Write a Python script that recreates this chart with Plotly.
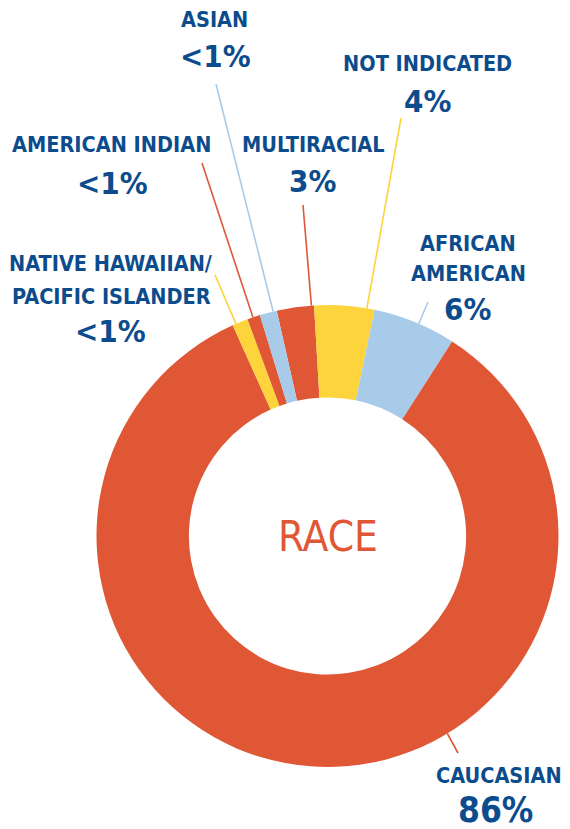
import math
import plotly.graph_objects as go

# ---- data ----
categories = ["Multiracial", "Not Indicated", "African American", "Caucasian",
              "Native Hawaiian/Pacific Islander", "American Indian", "Asian"]
values = [2.6, 4.2, 5.8, 84.2, 1.1, 0.9, 1.2]
label_names = ["MULTIRACIAL", "NOT INDICATED", "AFRICAN<br>AMERICAN", "CAUCASIAN",
               "NATIVE HAWAIIAN/<br>PACIFIC ISLANDER", "AMERICAN INDIAN", "ASIAN"]
label_pcts = ["3%", "4%", "6%", "86%", "<1%", "<1%", "<1%"]
center_title = "RACE"

# ---- style / layout ----
RED = "#E05736"
YELLOW = "#FDD43B"
BLUE = "#A8CBEA"
NAVY = "#0D4C8C"
slice_colors = [RED, YELLOW, BLUE, RED, YELLOW, RED, BLUE]

W, H = 570, 829
CX, CY, R = 327.5, 536.0, 231.0
HOLE = 0.60
ROTATION = -12.7

# x centre and y centre of each text line of the name
name_x = [313.5, 427.5, 468, 499, 111, 111.5, 214]
name_line_y = [[145], [64], [243.5, 273], [775], [263, 296], [144.5], [19.5]]
pct_pos = [(312.5, 181.5), (427.5, 100.5), (467.5, 308.5), (495.5, 810),
           (110, 331), (112.5, 183), (215, 55.5)]
leader_end = [(303, 205), (401, 118), (428, 302), (458, 753),
              (215, 275), (202, 163), (216, 84)]
leader_frac = [0.93, 0.87, 0.55, 0.383, 0.22, 0.44, 0.79]
name_size = 21.5
pct_sizes = [31, 31, 31, 35, 31, 31, 31]
FONT_B = "DejaVu Sans Condensed, Liberation Sans Narrow, sans-serif"


def px(x):
    return x / W


def py(y):
    return 1 - y / H


fig = go.Figure(go.Pie(
    labels=categories,
    values=values,
    sort=False,
    direction="clockwise",
    rotation=ROTATION,
    hole=HOLE,
    marker=dict(colors=slice_colors, line=dict(width=0)),
    textinfo="none",
    hoverinfo="label+percent",
    showlegend=False,
    domain=dict(x=[px(CX - R), px(CX + R)], y=[py(CY + R), py(CY - R)]),
))

total = sum(values)
start = ROTATION
annotations = []
shapes = []
for i, v in enumerate(values):
    span = v / total * 360.0
    a = math.radians(start + leader_frac[i] * span)
    x0 = CX + R * math.sin(a)
    y0 = CY - R * math.cos(a)
    x1, y1 = leader_end[i]
    shapes.append(dict(type="line", xref="paper", yref="paper",
                       x0=px(x0), y0=py(y0), x1=px(x1), y1=py(y1),
                       line=dict(color=slice_colors[i], width=1.6)))
    start += span
    for line_text, ly in zip(label_names[i].split("<br>"), name_line_y[i]):
        annotations.append(dict(text="<b>%s</b>" % line_text, x=px(name_x[i]), y=py(ly),
                                xref="paper", yref="paper", showarrow=False,
                                xanchor="center", yanchor="middle",
                                font=dict(family=FONT_B, size=name_size, color=NAVY)))
    qx, qy = pct_pos[i]
    annotations.append(dict(text="<b>%s</b>" % label_pcts[i], x=px(qx), y=py(qy),
                            xref="paper", yref="paper", showarrow=False,
                            xanchor="center", yanchor="middle",
                            font=dict(family=FONT_B, size=pct_sizes[i], color=NAVY)))

annotations.append(dict(text=center_title, x=px(CX), y=py(CY), xref="paper", yref="paper",
                        showarrow=False, xanchor="center", yanchor="middle",
                        font=dict(family="DejaVu Sans Condensed, sans-serif",
                                  size=42, color=RED)))

fig.update_layout(
    width=W, height=H,
    margin=dict(l=0, r=0, t=0, b=0),
    paper_bgcolor="white", plot_bgcolor="white",
    annotations=annotations, shapes=shapes,
)

fig.write_html("out.html", config={"displayModeBar": False},
               post_script="document.body.style.margin='0px';document.body.style.overflow='hidden';")
